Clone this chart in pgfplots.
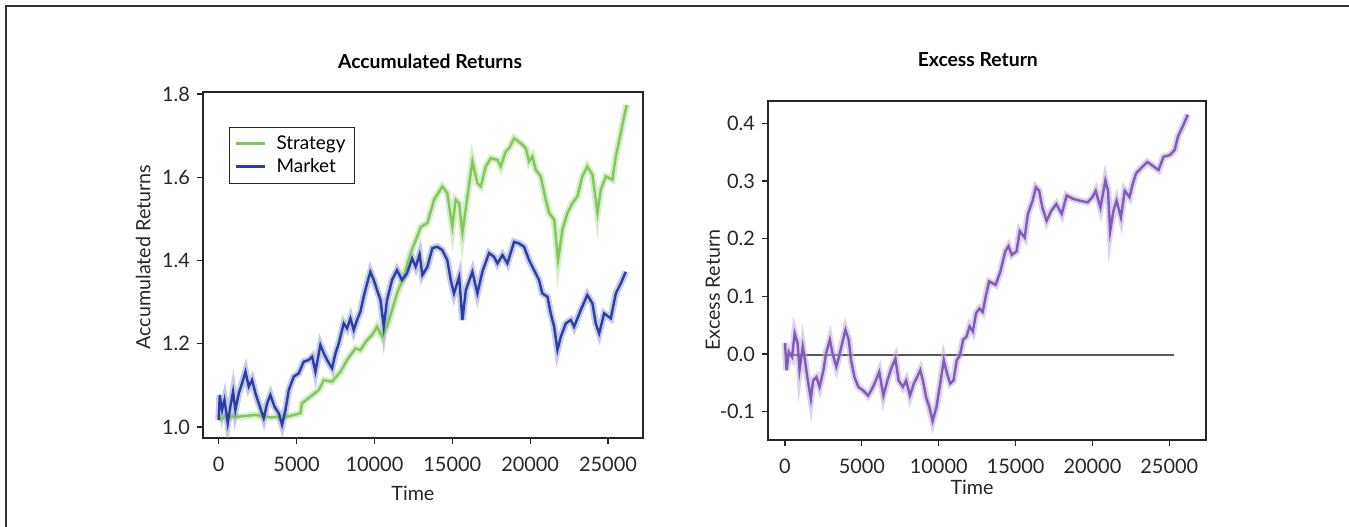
\documentclass[border=0pt]{standalone}
\usepackage{pgfplots}
\pgfplotsset{compat=1.18}
\usepackage{pgfplotstable}
\usepackage{fontspec}
\setmainfont{Lato}
\definecolor{strat}{RGB}{130,199,90}
\definecolor{strath}{RGB}{175,222,150}
\definecolor{mkt}{RGB}{44,62,166}
\definecolor{mkth}{RGB}{140,152,212}
\definecolor{exc}{RGB}{130,90,186}
\definecolor{exch}{RGB}{190,168,222}

\pgfplotstableread{
x y
0 1.017
370 1.025
1290 1.025
2360 1.029
3320 1.023
4400 1.025
5250 1.033
5350 1.057
5890 1.073
6430 1.089
6750 1.113
7280 1.109
7820 1.133
8240 1.161
8780 1.189
9100 1.185
9530 1.209
9850 1.221
10170 1.241
10490 1.217
10810 1.241
11130 1.281
11450 1.321
11880 1.361
12310 1.417
12740 1.457
12980 1.481
13400 1.490
13830 1.546
14360 1.578
14680 1.562
15000 1.481
15220 1.546
15440 1.538
15650 1.466
15970 1.554
16290 1.638
16610 1.586
16830 1.578
17150 1.626
17470 1.646
17900 1.642
18110 1.626
18430 1.662
18650 1.670
18970 1.694
19400 1.682
19720 1.670
19930 1.638
20140 1.650
20360 1.618
20680 1.602
21000 1.546
21220 1.514
21540 1.498
21790 1.401
22070 1.474
22390 1.514
22710 1.538
23030 1.554
23350 1.602
23670 1.626
24000 1.606
24210 1.546
24320 1.514
24530 1.570
24860 1.602
25280 1.594
25500 1.650
25820 1.706
26030 1.746
26200 1.774
}\strategy

\pgfplotstableread{
x y
0 1.017
70 1.077
220 1.041
370 1.065
580 1.009
750 1.049
920 1.085
1070 1.041
1290 1.081
1500 1.105
1720 1.133
1930 1.097
2140 1.113
2360 1.081
2570 1.057
2890 1.021
3110 1.057
3320 1.077
3580 1.049
3860 1.033
4070 1.005
4290 1.041
4500 1.089
4820 1.121
5140 1.129
5460 1.157
5780 1.161
6000 1.169
6210 1.133
6530 1.197
6750 1.177
6960 1.161
7280 1.141
7500 1.177
7710 1.201
8030 1.249
8240 1.237
8460 1.261
8670 1.233
8880 1.257
9100 1.277
9310 1.313
9530 1.345
9740 1.373
9960 1.353
10170 1.329
10390 1.305
10600 1.241
10810 1.305
11130 1.353
11450 1.377
11770 1.353
12090 1.369
12420 1.405
12650 1.385
12900 1.415
13080 1.365
13400 1.385
13720 1.430
14040 1.433
14360 1.425
14680 1.401
14900 1.353
15110 1.321
15440 1.361
15650 1.257
15870 1.329
16290 1.373
16610 1.321
16930 1.373
17360 1.418
17680 1.409
17900 1.393
18220 1.413
18540 1.393
18970 1.445
19290 1.441
19610 1.433
19930 1.401
20250 1.377
20570 1.353
20780 1.321
21110 1.313
21320 1.273
21540 1.241
21750 1.185
21970 1.217
22290 1.249
22610 1.257
22820 1.241
23250 1.281
23670 1.317
24000 1.297
24210 1.249
24430 1.225
24750 1.273
25180 1.261
25500 1.321
25820 1.345
26140 1.373
}\market

\pgfplotstableread{
x y
0 0.019
105 -0.028
250 0.004
460 -0.005
630 0.036
820 0.019
945 -0.028
1155 0.013
1300 -0.011
1450 -0.040
1680 -0.078
1830 -0.046
2040 -0.040
2250 -0.057
2500 -0.028
2670 0.001
2920 0.025
3090 0.001
3340 -0.022
3510 -0.005
3720 0.019
3930 0.042
4140 0.025
4300 -0.011
4520 -0.040
4770 -0.057
5080 -0.063
5400 -0.072
5610 -0.063
5860 -0.049
6130 -0.031
6400 -0.072
6660 -0.046
6910 -0.025
7180 -0.008
7390 -0.046
7670 -0.057
7880 -0.046
8130 -0.072
8380 -0.051
8590 -0.040
8800 -0.028
8970 -0.046
9180 -0.075
9390 -0.092
9600 -0.116
9850 -0.092
10060 -0.057
10330 -0.011
10540 -0.034
10750 -0.051
10960 -0.046
11170 -0.011
11380 -0.002
11590 0.025
11800 0.030
12010 0.048
12220 0.039
12430 0.071
12650 0.079
12860 0.073
13070 0.102
13280 0.126
13700 0.120
14010 0.143
14330 0.178
14540 0.187
14750 0.172
15060 0.178
15270 0.213
15590 0.202
15800 0.243
16110 0.266
16320 0.289
16530 0.283
16740 0.254
17020 0.231
17310 0.248
17650 0.260
18000 0.243
18320 0.275
18740 0.269
19160 0.266
19680 0.263
20000 0.272
20210 0.283
20520 0.254
20840 0.301
21010 0.283
21150 0.213
21360 0.248
21570 0.266
21850 0.237
22100 0.283
22410 0.272
22620 0.295
22830 0.313
23150 0.322
23570 0.333
23990 0.325
24300 0.319
24620 0.342
25040 0.345
25350 0.354
25560 0.377
25880 0.395
26200 0.415
}\excess

\pgfplotsset{
  every axis title shift=0pt,
  myax/.style={
    scale only axis,
    axis line style={line width=0.6bp, black!85},
    tick align=outside,
    xtick pos=bottom, ytick pos=left,
    major tick length=3bp,
    tick style={line width=0.6bp, black!85},
    tick label style={font=\fontsize{10}{12}\selectfont, black!85},
    label style={font=\fontsize{9.9}{12}\selectfont, black!85},
    title style={font=\fontsize{9.7}{12}\selectfont\bfseries},
    scaled x ticks=false,
    /pgf/number format/assume math mode=true,
    xtick={0,5000,10000,15000,20000,25000},
    xticklabel style={/pgf/number format/set thousands separator={}, /pgf/number format/fixed, yshift=-3bp},
    yticklabel style={/pgf/number format/fixed, /pgf/number format/fixed zerofill, /pgf/number format/precision=1},
  }
}

\begin{document}
\begin{tikzpicture}
\useasboundingbox (0,0) rectangle (674.5bp,263.5bp);
\draw[line width=1bp, black!80] (3bp,0) -- (3bp,260.5bp) -- (674.5bp,260.5bp);

\begin{axis}[myax,
  at={(101.5bp,44.5bp)}, anchor=south west,
  width=220bp, height=173bp,
  xmin=-1008, xmax=27246, ymin=0.9736, ymax=1.805,
  ytick={1.0,1.2,1.4,1.6,1.8},
  title={Accumulated Returns},
  title style={at={(axis description cs:0.516,1.087)}, anchor=center},
  xlabel={Time}, ylabel={Accumulated Returns},
  xlabel style={at={(axis description cs:0.477,-0.159)}, anchor=center},
  ylabel style={at={(axis description cs:-0.136,0.523)}, anchor=center},
  legend style={at={(rel axis cs:0.059,0.899)}, anchor=north west,
    draw=black!85, line width=0.6bp, font=\fontsize{9.5}{11}\selectfont,
    inner xsep=2.5bp, inner ysep=2bp, row sep=-1bp,
    legend image code/.code={\draw[line width=1.5bp] (0bp,0bp) -- (14.5bp,0bp);}},
  legend cell align=left,
]
\addplot[strath, line width=3.4bp, opacity=0.5, forget plot] table {\strategy};
\addplot[mkth, line width=3.4bp, opacity=0.5, forget plot] table {\market};
\addplot[strat, line width=1.2bp] table {\strategy};
\addplot[mkt, line width=1.2bp] table {\market};
\legend{\hspace{3bp}Strategy\hspace{8bp}, \hspace{3bp}Market}
\end{axis}

\begin{axis}[myax,
  at={(384bp,43.5bp)}, anchor=south west,
  width=219bp, height=169.5bp,
  xmin=-1106, xmax=27386, ymin=-0.149, ymax=0.4387,
  ytick={-0.1,0,0.1,0.2,0.3,0.4},
  title={Excess Return},
  title style={at={(axis description cs:0.479,1.121)}, anchor=center},
  xlabel={Time}, ylabel={Excess Return},
  xlabel style={at={(axis description cs:0.466,-0.139)}, anchor=center},
  ylabel style={at={(axis description cs:-0.126,0.442)}, anchor=center},
]
\addplot[black!65, line width=0.8bp] coordinates {(150,-0.002) (25290,-0.002)};
\addplot[exch, line width=3.4bp, opacity=0.5] table {\excess};
\addplot[exc, line width=1.2bp] table {\excess};
\end{axis}
\end{tikzpicture}
\end{document}
